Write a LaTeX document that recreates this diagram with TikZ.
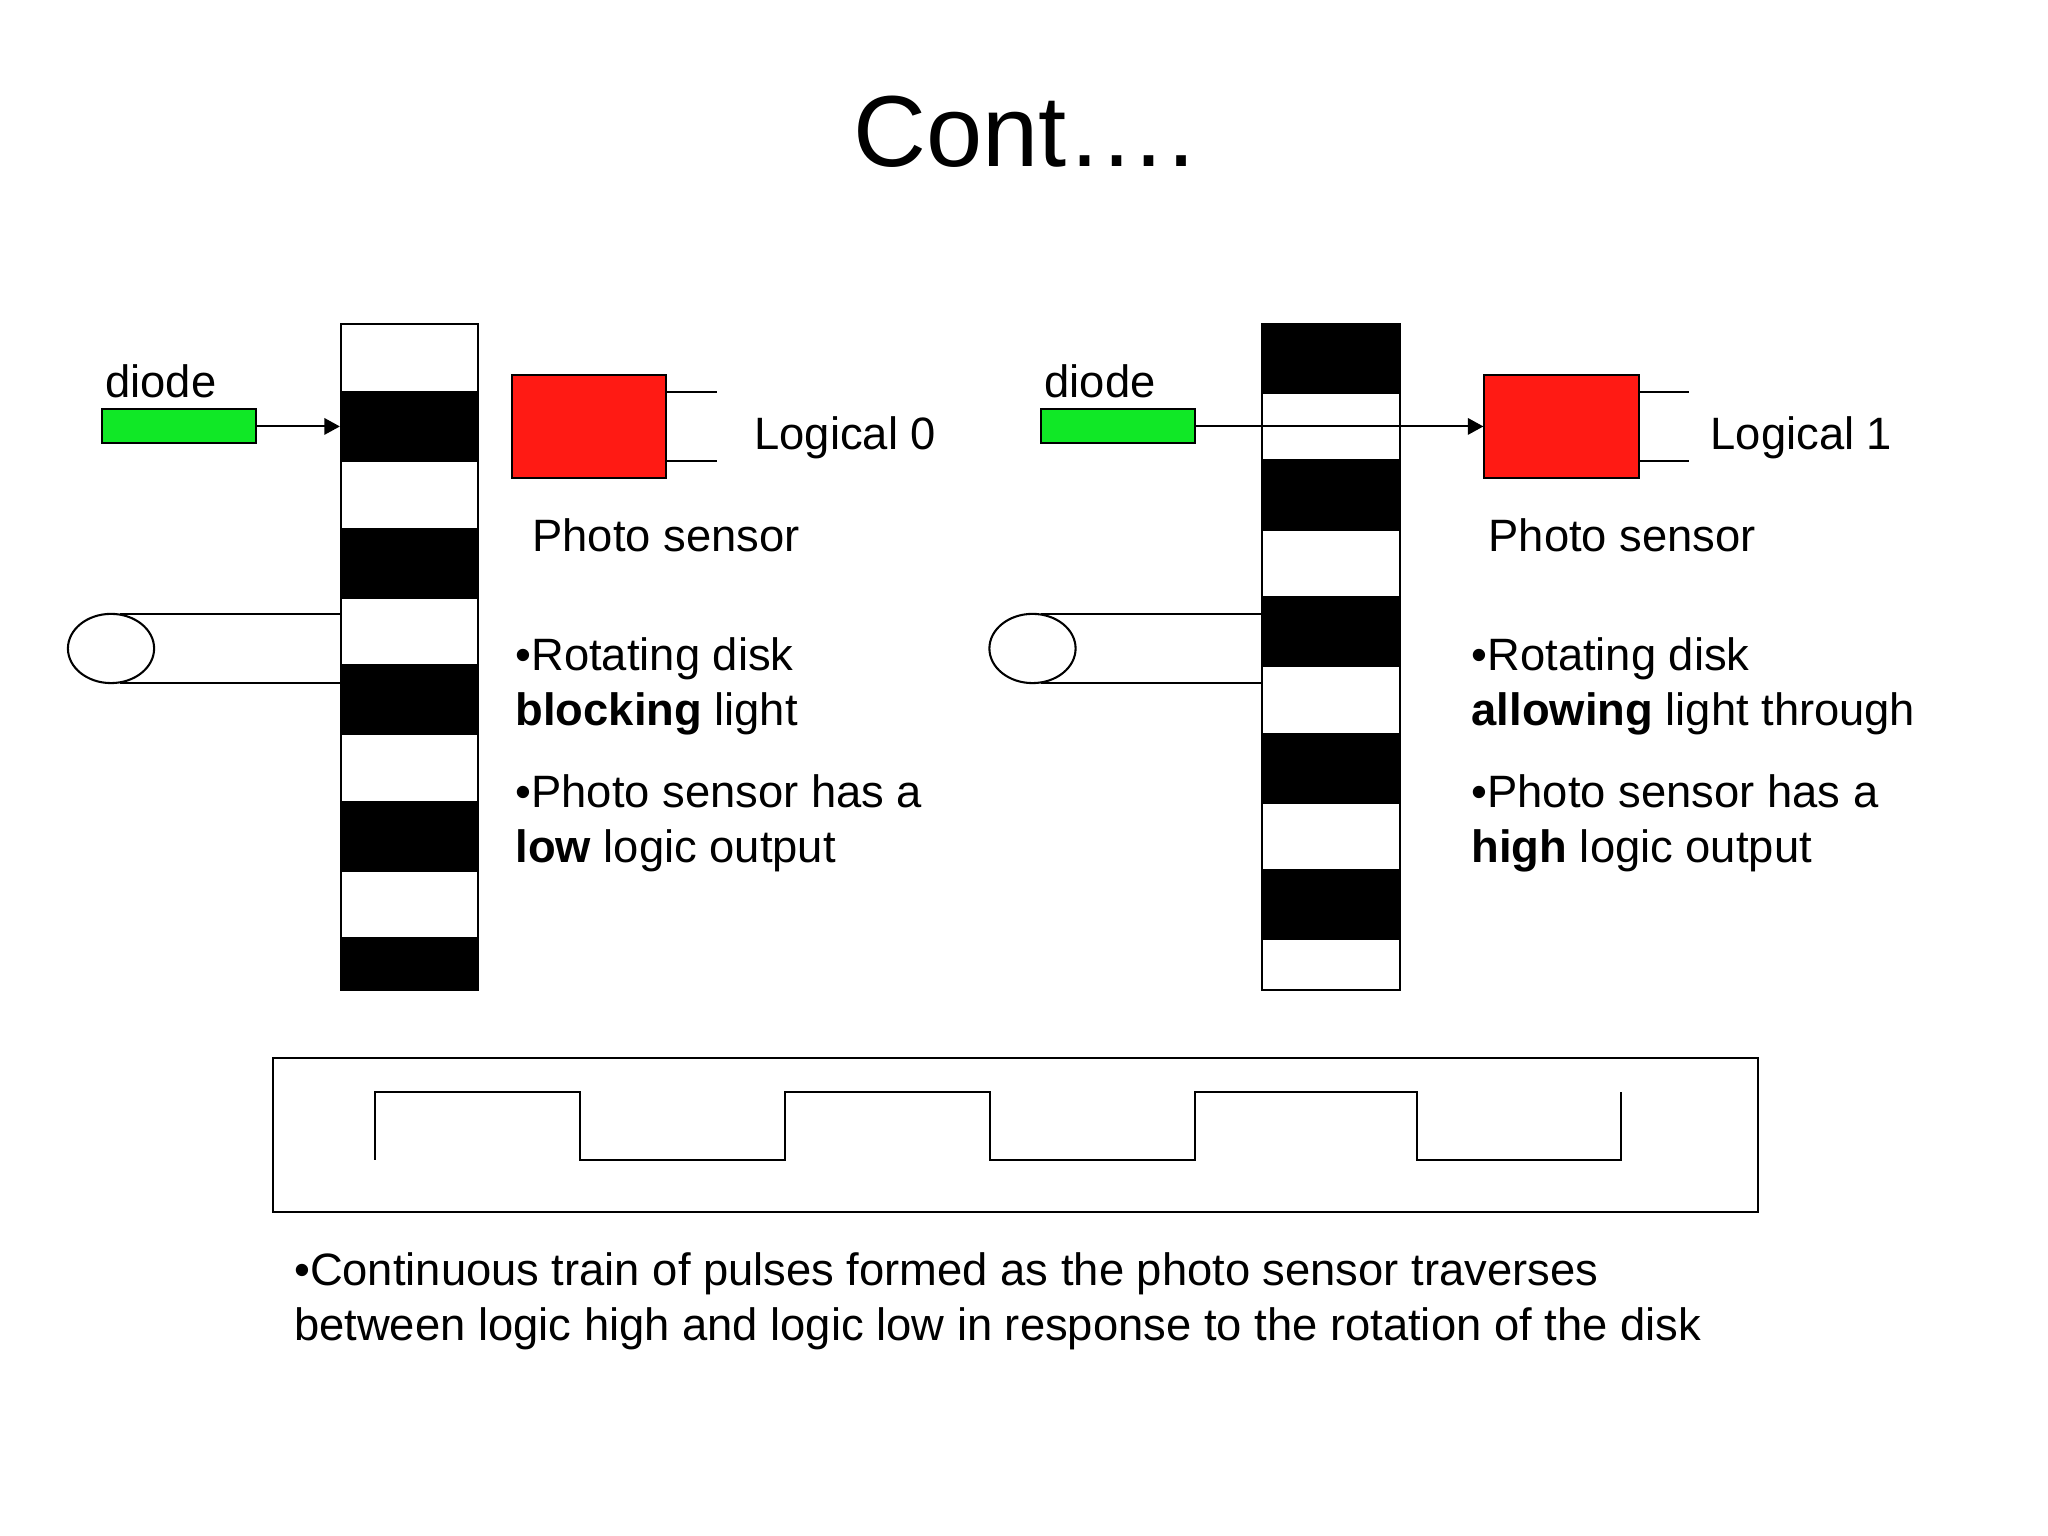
\documentclass[tikz,border=0pt]{standalone}
\usepackage{fontspec}
\setmainfont{Liberation Sans}
\usetikzlibrary{arrows.meta, shapes.geometric}

\tikzset{
    band/.style = {rectangle, draw, line width = 0.45pt, inner sep = 0pt, minimum width = 1.05cm},
    emitter/.style = {rectangle, draw, fill = diodegreen, line width = 0.45pt, inner sep = 0pt, minimum width = 1.18cm, minimum height = 0.26cm},
    sensor/.style = {rectangle, draw, fill = sensorred, line width = 0.45pt, inner sep = 0pt, minimum width = 1.18cm, minimum height = 0.79cm},
    disk/.style = {ellipse, draw, line width = 0.45pt, inner sep = 0pt, minimum width = 0.66cm, minimum height = 0.53cm},
    wire/.style = {line width = 0.45pt},
    beam/.style = {line width = 0.45pt, -{Triangle[length = 3.4pt, width = 3.6pt]}},
    txt/.style = {inner sep = 0pt, anchor = base west, font = \fontsize{9.88}{11.95}\selectfont}
}
\definecolor{diodegreen}{HTML}{10E826}
\definecolor{sensorred}{HTML}{FF1A14}

\begin{document}
\begin{tikzpicture}
    \useasboundingbox (0, 0) rectangle (15.68, -11.76);
    \node (title) at (6.525, -1.278) [inner sep = 0pt, anchor = base west, font = \fontsize{22}{26}\selectfont] {Cont….};

    % left disk, light blocked
    \node (a1) at (3.135, -2.74) [band, minimum height = 0.52cm] {};
    \node (a2) at (3.135, -3.265) [band, fill = black, minimum height = 0.53cm] {};
    \node (a3) at (3.135, -3.79) [band, minimum height = 0.52cm] {};
    \node (a4) at (3.135, -4.315) [band, fill = black, minimum height = 0.53cm] {};
    \node (a5) at (3.135, -4.835) [band, minimum height = 0.51cm] {};
    \node (a6) at (3.135, -5.355) [band, fill = black, minimum height = 0.53cm] {};
    \node (a7) at (3.135, -5.88) [band, minimum height = 0.52cm] {};
    \node (a8) at (3.135, -6.405) [band, fill = black, minimum height = 0.53cm] {};
    \node (a9) at (3.135, -6.925) [band, minimum height = 0.51cm] {};
    \node (a10) at (3.135, -7.38) [band, fill = black, minimum height = 0.40cm] {};

    \node (diodeA) at (1.37, -3.265) [emitter] {};
    \node (sensorA) at (4.51, -3.265) [sensor] {};
    \node (diskA) at (0.85, -4.965) [disk] {};
    \coordinate (leadAa) at (5.49, -3.00);
    \coordinate (leadAb) at (5.49, -3.53);
    \coordinate (axleAa) at (0.92, -4.70);
    \coordinate (axleAb) at (0.92, -5.23);
    \draw [beam] (diodeA) -- (a2);
    \draw [wire] (sensorA.east |- leadAa) -- (leadAa);
    \draw [wire] (sensorA.east |- leadAb) -- (leadAb);
    \draw [wire] (axleAa) -- (axleAa -| a5.west);
    \draw [wire] (axleAb) -- (axleAb -| a6.west);

    \node (diodeLabelA) at (0.80, -3.04) [txt] {diode};
    \node (logicA) at (5.77, -3.44) [txt] {Logical 0};
    \node (sensorLabelA) at (4.07, -4.22) [txt] {Photo sensor};
    \node (noteAa) at (3.94, -5.13) [txt] {•Rotating disk};
    \node (noteAb) at (3.94, -5.555) [txt] {\textbf{blocking} light};
    \node (noteAc) at (3.94, -6.18) [txt] {•Photo sensor has a};
    \node (noteAd) at (3.94, -6.60) [txt] {\textbf{low} logic output};

    % right disk, light passes
    \node (b1) at (10.19, -2.745) [band, fill = black, minimum height = 0.53cm] {};
    \node (b2) at (10.19, -3.265) [band, minimum height = 0.51cm] {};
    \node (b3) at (10.19, -3.79) [band, fill = black, minimum height = 0.54cm] {};
    \node (b4) at (10.19, -4.315) [band, minimum height = 0.51cm] {};
    \node (b5) at (10.19, -4.835) [band, fill = black, minimum height = 0.53cm] {};
    \node (b6) at (10.19, -5.36) [band, minimum height = 0.52cm] {};
    \node (b7) at (10.19, -5.885) [band, fill = black, minimum height = 0.53cm] {};
    \node (b8) at (10.19, -6.405) [band, minimum height = 0.51cm] {};
    \node (b9) at (10.19, -6.925) [band, fill = black, minimum height = 0.53cm] {};
    \node (b10) at (10.19, -7.385) [band, minimum height = 0.39cm] {};

    \node (diodeB) at (8.56, -3.265) [emitter] {};
    \node (sensorB) at (11.955, -3.265) [sensor] {};
    \node (diskB) at (7.905, -4.965) [disk] {};
    \coordinate (leadBa) at (12.93, -3.00);
    \coordinate (leadBb) at (12.93, -3.53);
    \coordinate (axleBa) at (7.97, -4.70);
    \coordinate (axleBb) at (7.97, -5.23);
    \draw [beam] (diodeB) -- (sensorB);
    \draw [wire] (sensorB.east |- leadBa) -- (leadBa);
    \draw [wire] (sensorB.east |- leadBb) -- (leadBb);
    \draw [wire] (axleBa) -- (axleBa -| b5.west);
    \draw [wire] (axleBb) -- (axleBb -| b6.west);

    \node (diodeLabelB) at (7.99, -3.04) [txt] {diode};
    \node (logicB) at (13.09, -3.44) [txt] {Logical 1};
    \node (sensorLabelB) at (11.39, -4.22) [txt] {Photo sensor};
    \node (noteBa) at (11.26, -5.13) [txt] {•Rotating disk};
    \node (noteBb) at (11.26, -5.555) [txt] {\textbf{allowing} light through};
    \node (noteBc) at (11.26, -6.18) [txt] {•Photo sensor has a};
    \node (noteBd) at (11.26, -6.60) [txt] {\textbf{high} logic output};

    % pulse train
    \node (frame) at (7.775, -8.69) [rectangle, draw, line width = 0.45pt, inner sep = 0pt, minimum width = 11.37cm, minimum height = 1.18cm] {};
    \draw [wire] (2.87, -8.88) -- (2.87, -8.36) -- (4.44, -8.36) -- (4.44, -8.88) -- (6.01, -8.88) -- (6.01, -8.36) -- (7.58, -8.36) -- (7.58, -8.88) -- (9.15, -8.88) -- (9.15, -8.36) -- (10.85, -8.36) -- (10.85, -8.88) -- (12.41, -8.88) -- (12.41, -8.36);
    \node (noteCa) at (2.245, -9.84) [txt] {•Continuous train of pulses formed as the photo sensor traverses};
    \node (noteCb) at (2.245, -10.26) [txt] {between logic high and logic low in response to the rotation of the disk};
\end{tikzpicture}
\end{document}
